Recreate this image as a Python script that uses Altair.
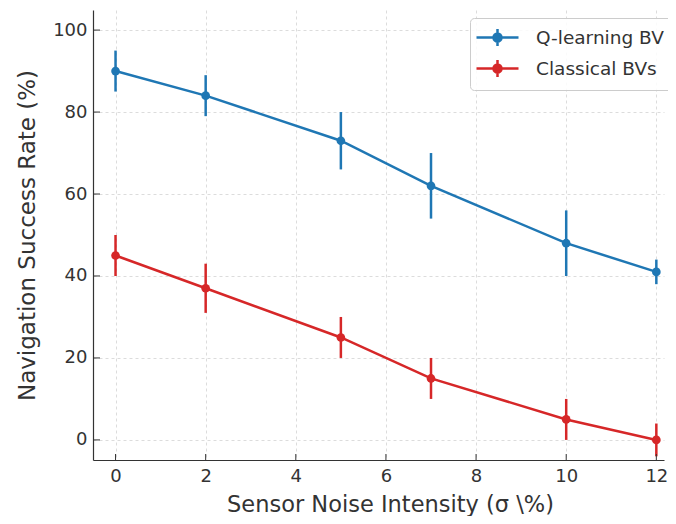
import altair as alt
import pandas as pd

# ---- data ----
noise = [0, 2, 5, 7, 10, 12]
q_rate = [90, 84, 73, 62, 48, 41]
q_err = [5, 5, 7, 8, 8, 3]
c_rate = [45, 37, 25, 15, 5, 0]
c_err = [5, 6, 5, 5, 5, 4]
series_names = ["Q-learning BV", "Classical BVs"]
series_colors = ["#1f77b4", "#d62728"]
y_ticks = [0, 20, 40, 60, 80, 100]
x_ticks = [0, 2, 4, 6, 8, 10, 12]

rows = []
for name, vals, errs in [(series_names[0], q_rate, q_err), (series_names[1], c_rate, c_err)]:
    for x, y, e in zip(noise, vals, errs):
        rows.append({"Series": name, "x": x, "y": y, "lo": y - e, "hi": y + e})
df = pd.DataFrame(rows)
ytick_df = pd.DataFrame({"v": y_ticks})
xtick_df = pd.DataFrame({"v": x_ticks})

W, H = 571, 450
TEXT = "#333333"
FONT = "DejaVu Sans"

xscale = alt.Scale(domain=[-0.5, 12.17], nice=False, zero=False)
yscale = alt.Scale(domain=[-4.9, 104.9], nice=False, zero=False)
cscale = alt.Scale(domain=series_names, range=series_colors)

xaxis = alt.Axis(values=x_ticks, title="Sensor Noise Intensity (σ \\%)",
                 titlePadding=8, labelPadding=7, titleX=297, titleFontSize=22.5)
yaxis = alt.Axis(values=y_ticks, title="Navigation Success Rate (%)",
                 titlePadding=13, labelPadding=6)

symbol_path = ("M-1.3,0H2.9M0.8,-0.85V0.85"
               "M0.4,0A0.4,0.4 0 1,0 1.2,0A0.4,0.4 0 1,0 0.4,0Z")

def make_legend():
    return alt.Legend(
        title=None, orient="none", legendX=377, legendY=8,
        symbolType=symbol_path, symbolSize=400, symbolStrokeWidth=2.5,
        labelFontSize=18.5, labelFont=FONT, labelColor=TEXT, labelOffset=35,
        rowPadding=4, padding=8, strokeColor="#cccccc", cornerRadius=4,
        fillColor="rgba(255,255,255,0.85)", symbolOpacity=1,
    )

base = alt.Chart(df)

lines = base.mark_line(strokeWidth=2.5).encode(
    x=alt.X("x:Q", scale=xscale, axis=xaxis),
    y=alt.Y("y:Q", scale=yscale, axis=yaxis),
    stroke=alt.Stroke("Series:N", scale=cscale, legend=make_legend(), sort=series_names),
    detail="Series:N",
)

errs = base.mark_rule(strokeWidth=2.5).encode(
    x=alt.X("x:Q", scale=xscale, axis=xaxis),
    y=alt.Y("lo:Q", scale=yscale, axis=yaxis),
    y2="hi:Q",
    stroke=alt.Stroke("Series:N", scale=cscale, legend=None, sort=series_names),
)

pts = base.mark_circle(size=75, opacity=1).encode(
    x=alt.X("x:Q", scale=xscale, axis=xaxis),
    y=alt.Y("y:Q", scale=yscale, axis=yaxis),
    fill=alt.Fill("Series:N", scale=cscale, legend=make_legend(), sort=series_names),
)

yticks = alt.Chart(ytick_df).mark_rule(color="#333333", strokeWidth=1).encode(
    y=alt.Y("v:Q", scale=yscale, axis=yaxis),
    x=alt.value(0), x2=alt.value(7),
)
xticks = alt.Chart(xtick_df).mark_rule(color="#333333", strokeWidth=1).encode(
    x=alt.X("v:Q", scale=xscale, axis=xaxis),
    y=alt.value(H), y2=alt.value(H - 6),
)

chart = alt.layer(lines, errs, pts, yticks, xticks).properties(
    width=W, height=H,
    autosize=alt.AutoSizeParams(type="none"),
    padding={"left": 85, "top": 2, "right": 4, "bottom": 56},
).configure_view(stroke=None).configure_axis(
    grid=True, gridColor="#d3d3d3", gridDash=[3, 3], gridWidth=0.8,
    ticks=False, tickSize=0,
    domainColor="#333333", domainWidth=1.2,
    labelFont=FONT, labelFontSize=18, labelColor=TEXT,
    titleFont=FONT, titleFontSize=23, titleColor=TEXT, titleFontWeight="normal",
)

chart.save("out.html", embed_options={"renderer": "svg", "actions": False})
